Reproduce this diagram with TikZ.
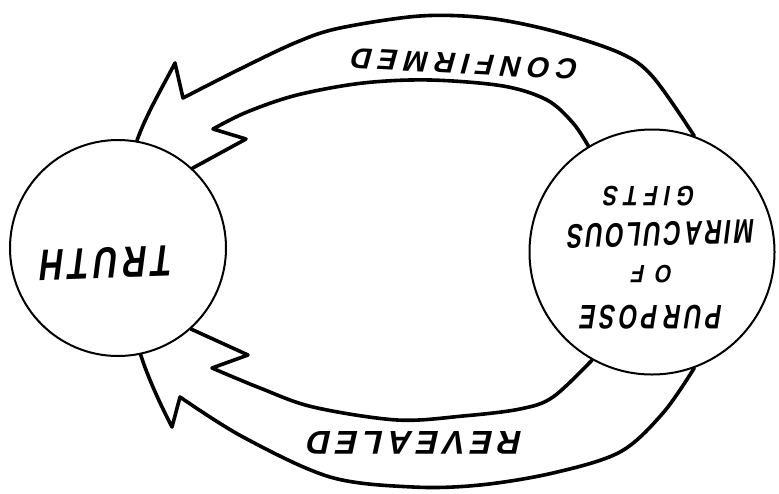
\documentclass[tikz,border=0pt]{standalone}
\usepackage{fontspec}
\newfontfamily\hand[FakeSlant=0.22]{Liberation Sans}
\newcommand\spacing[1]{\addfontfeature{LetterSpace=#1}}
\begin{document}
\begin{tikzpicture}[x=1pt, y=-1pt,
  band/.style={line width=3.6pt, line join=round, line cap=round},
  ring/.style={circle, draw, line width=2pt, inner sep=0pt},
  hw/.style={inner sep=0pt, font=\hand\bfseries\fontsize{#1}{#1}\selectfont}]
\useasboundingbox (0,0) rectangle (779,493);

% the two circles
\node[ring, minimum size=216pt] (truth) at (118,248) {};
\node[ring, minimum size=245pt] (purpose) at (652,252) {};

% upper hollow arrow: outer and inner edges
\draw[band] plot[smooth, tension=0.55] coordinates {(purpose.70) (653,77) (620,53) (553,31) (487,18) (420,16) (340,28) (297,42) (240,69) (183,98)}
  -- (175,63) .. controls (162,88) and (146,115) .. (truth.80);
\draw[band] plot[smooth, tension=0.55] coordinates {(purpose.121) (573,123) (547,100) (503,86) (430,80) (363,83) (297,95) (247,112) (213,129)}
  -- (246,139) -- (truth.47);

% lower hollow arrow: outer and inner edges
\draw[band] plot[smooth, tension=0.55] coordinates {(purpose.290) (663,413) (620,452) (553,473) (480,485) (413,487) (330,477) (243,437) (180,397)}
  -- (172,427) .. controls (157,398) and (146,372) .. (truth.282);
\draw[band] plot[smooth, tension=0.55] coordinates {(purpose.241) (553,397) (520,409) (463,416) (397,420) (313,407) (260,388) (212,368)}
  -- (248,355) -- (truth.312);

% hand-lettered labels
\node[hw=44, rotate=182, xscale=0.75] (truthtxt) at (108,263) {\spacing{15}TRUTH};
\node[hw=28, rotate=180, xscale=0.8] (gifts) at (650,196) {\spacing{28}GIFTS};
\node[hw=34, rotate=181.5, xscale=0.7] (mirac) at (662,234) {\spacing{12}MIRACULOUS};
\node[hw=25, rotate=180, xscale=0.85] (of) at (653,274) {\spacing{50}OF};
\node[hw=34, rotate=180, xscale=0.7] (purp) at (652,317) {\spacing{16}PUR\kern9pt POSE};
\node[hw=29, rotate=177] (conf) at (466,64) {\spacing{22}CONFIRMED};
\node[hw=33, rotate=180] (rev) at (416,443) {\spacing{15}REVEALED};
\end{tikzpicture}
\end{document}
